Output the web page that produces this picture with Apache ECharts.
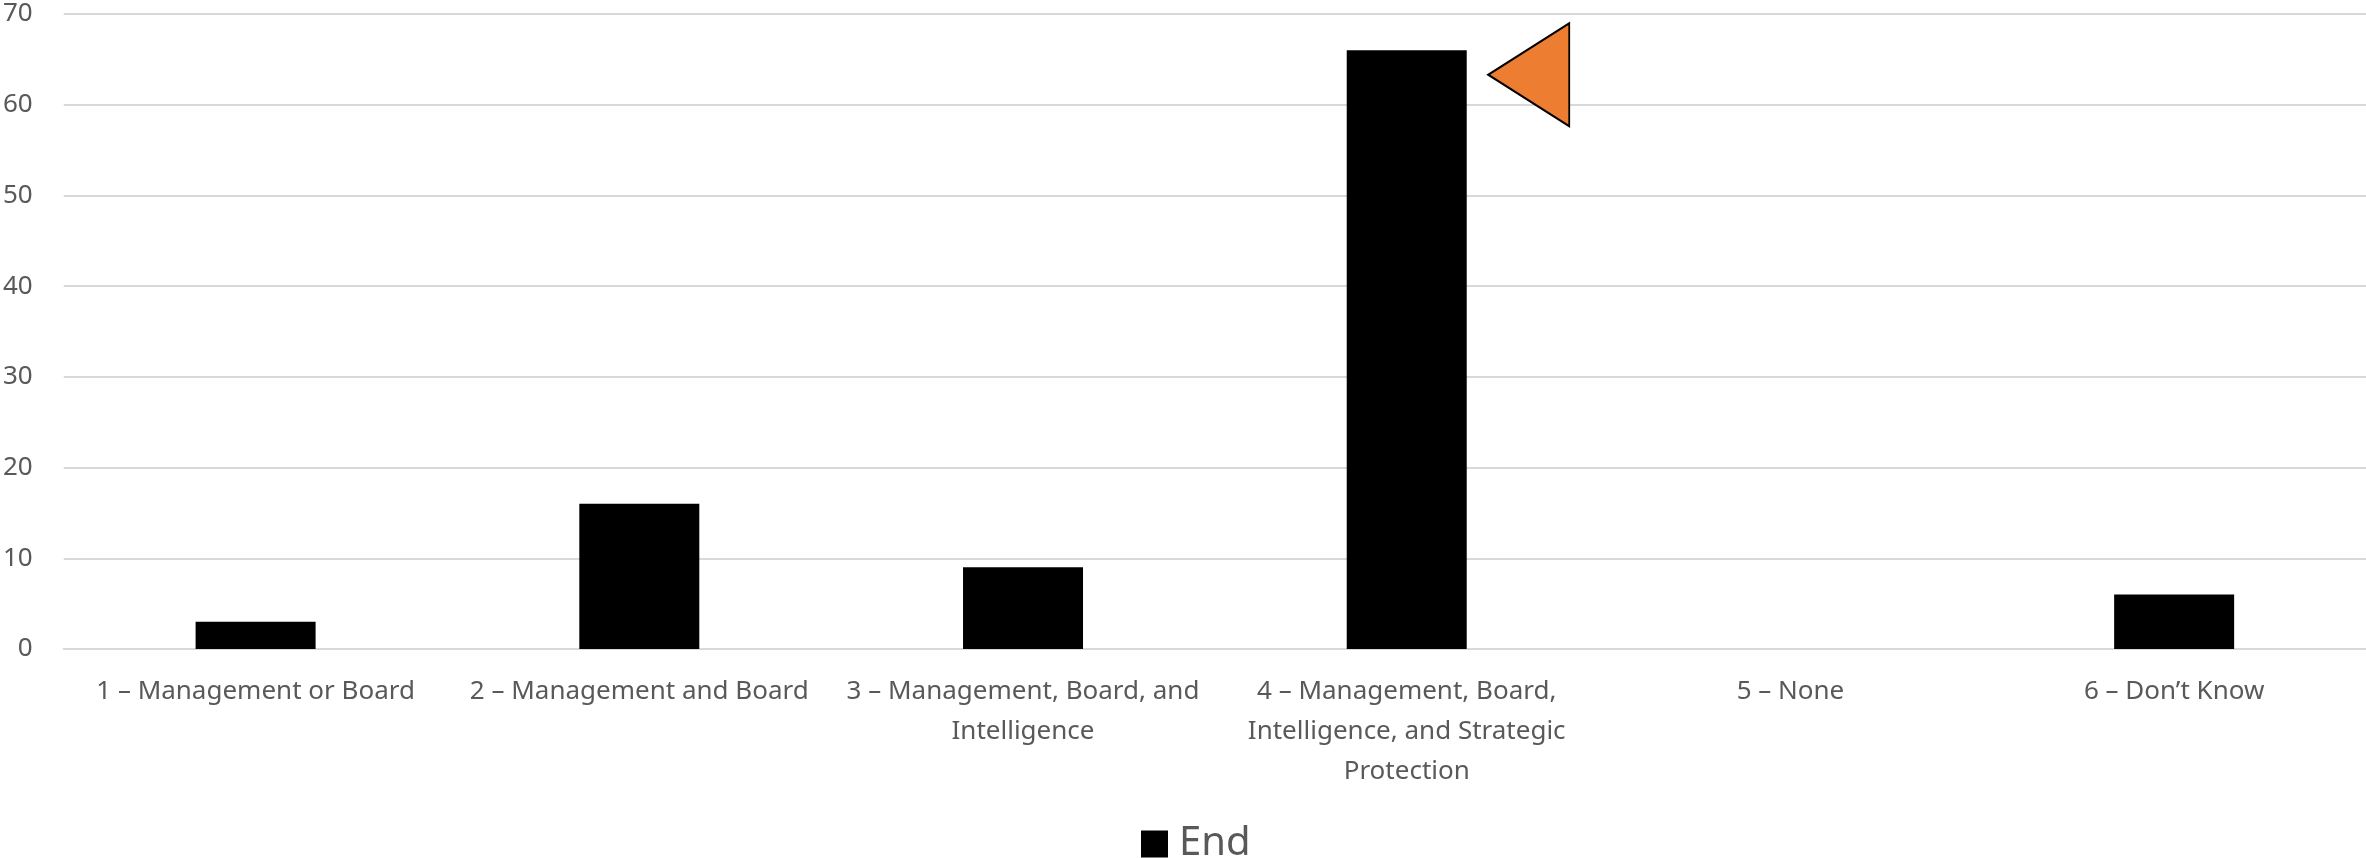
<!DOCTYPE html>
<html>
<head>
<meta charset="utf-8">
<script src="https://cdn.jsdelivr.net/npm/echarts@6/dist/echarts.min.js"></script>
<style>
  html, body { margin: 0; padding: 0; background: #fff; }
  #chart { width: 2366px; height: 858px; }
</style>
</head>
<body>
<div id="chart"></div>
<script>
// Categories (tick labels on the x axis)
const categories = [
  '1 – Management or Board',
  '2 – Management and Board',
  '3 – Management, Board, and\nIntelligence',
  '4 – Management, Board,\nIntelligence, and Strategic\nProtection',
  '5 – None',
  '6 – Don’t Know'
];

// Bar series "End"
const endValues = [3, 16, 9, 66, 0, 6];

// Marker beside the fourth category
const markerValues = [null, null, null, 63.3, null, null];

// Value axis ticks
const yMin = 0;
const yMax = 70;
const yStep = 10;

const textColor = '#595959';
const font = 'Noto Sans';

const chart = echarts.init(document.getElementById('chart'), null, { renderer: 'canvas' });

chart.setOption({
  animation: false,
  backgroundColor: '#ffffff',
  grid: { left: 59, right: 0, top: 14, bottom: 209 },
  legend: {
    data: ['End'],
    left: 1136,
    top: 815,
    icon: 'rect',
    itemWidth: 27,
    itemHeight: 27,
    itemGap: 16,
    textStyle: { color: textColor, fontFamily: font, fontSize: 40, lineHeight: 48, padding: [0, 0, 0, 6] }
  },
  xAxis: {
    type: 'category',
    data: categories,
    axisLine: { show: true, lineStyle: { color: '#d9d9d9', width: 2 } },
    axisTick: { show: false },
    axisLabel: {
      interval: 0,
      margin: 23,
      color: textColor,
      fontFamily: font,
      fontSize: 26,
      lineHeight: 40,
      align: 'center'
    },
    splitLine: { show: false }
  },
  yAxis: {
    type: 'value',
    min: yMin,
    max: yMax,
    interval: yStep,
    axisLine: { show: false },
    axisTick: { show: false },
    axisLabel: { margin: 31, color: textColor, fontFamily: font, fontSize: 26 },
    splitLine: { lineStyle: { color: '#d9d9d9', width: 2 } }
  },
  series: [
    {
      name: 'End',
      type: 'bar',
      data: endValues,
      barWidth: 120,
      itemStyle: { color: '#000000' }
    },
    {
      name: 'Marker',
      type: 'scatter',
      data: markerValues,
      symbol: 'triangle',
      symbolSize: [103, 81],
      symbolRotate: 90,
      symbolOffset: [122, 0],
      itemStyle: { color: '#ED7D31', borderColor: '#000000', borderWidth: 2, opacity: 1 },
      z: 5
    }
  ]
});
</script>
</body>
</html>
